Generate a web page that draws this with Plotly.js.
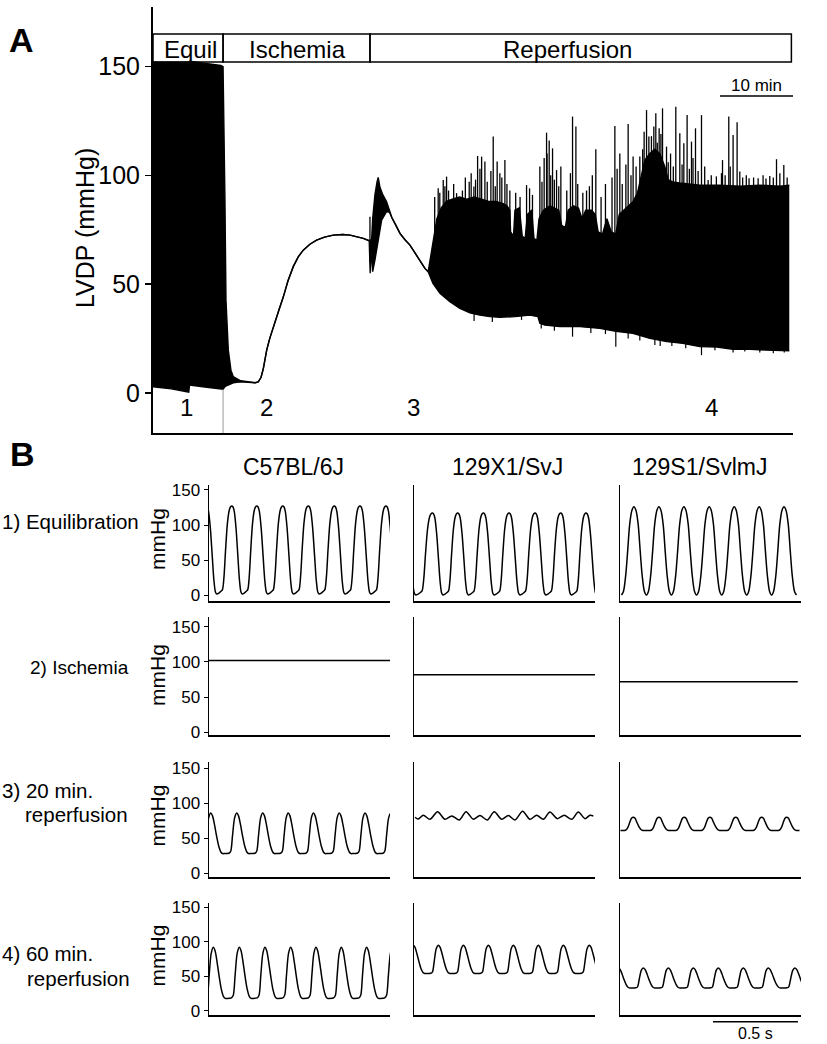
<!DOCTYPE html>
<html><head><meta charset="utf-8">
<script src="https://cdn.plot.ly/plotly-3.0.1.min.js"></script>
<style>html,body{margin:0;padding:0;background:#fff}#chart{width:827px;height:1044px}</style>
</head><body><div id="chart"></div>
<script>
// ================= Panel A data (time in min, LVDP in mmHg) =================
const phaseNames = ['Equil', 'Ischemia', 'Reperfusion'];
const phaseBounds = [0, 9.6, 29.73, 87.48];
const phaseLabelT = [5.2, 19.8, 56.8];
const stageLabels = ['1', '2', '3', '4'];
const stageT = [4.6, 15.6, 35.7, 76.5];
const yTicksA = [0, 50, 100, 150];
const scaleBarMin = 10;      // "10 min"
const scaleBarEndA = 87.7;

const upperT = [0, 2.5, 4.9, 5.0, 7.1, 8.5, 9.3, 9.6, 9.75, 9.86, 10.0, 10.32, 10.68, 11.0, 12.0, 13.3, 14.0, 14.42, 14.8, 15.11, 15.58, 16.0, 16.48, 17.2, 17.85, 18.5, 19.22, 19.9, 20.59, 21.5, 22.42, 23.5, 24.7, 26.0, 27.0, 28.0, 28.81, 29.63, 29.73, 29.96, 30.1, 30.41, 30.7, 30.86, 31.1, 31.5, 32.0, 32.4, 32.74, 33.3, 33.84, 34.5, 35.21, 35.9, 36.58, 37.26, 37.71,
  38.0, 38.36, 38.9, 39.5, 40.2, 41.0, 42.0, 43.0, 44.0, 45.0, 46.0, 47.0, 48.0, 48.5, 48.9, 49.0, 49.4, 49.6, 50.2, 50.6, 51.0, 51.3, 51.9, 52.2, 52.6, 52.9, 53.5, 54.4, 55.0, 55.6, 56.0, 56.5, 56.9, 57.6, 58.3, 58.8, 59.3, 60.1, 60.6, 61.0, 61.6, 62.2, 62.8, 63.4, 63.9, 64.5, 65.2, 65.8, 66.4, 66.9, 67.4, 68.08, 68.77, 69.45, 70.14, 70.6, 71.2, 72.19, 74.93, 77.67, 80.41, 83.15, 85.89, 87.19];
const upperV = [152, 152, 152, 152.5, 151.5, 151, 150.5, 150, 120, 88.6, 42.6, 19.6, 10.4, 7.4, 5.5, 4.8, 4.6, 5.0, 7, 11, 19.6, 25, 30.4, 37.5, 44, 51.5, 58, 62.5, 65.6, 68.3, 70.2, 71.6, 72.5, 72.8, 72.5, 71.8, 71, 69.9, 70, 70.5, 80, 91, 97, 99, 94.5, 91, 88, 84, 80.5, 77, 73.3, 70.5, 67.9, 64.3, 61, 57.2, 55.7,
  62, 70, 80, 85, 88, 89, 90, 89, 90, 89, 88, 88, 87, 86, 84, 74, 72, 84, 85, 72, 71, 82, 84, 71, 70, 80, 84, 86, 85, 84, 77, 76, 84, 86, 85, 80, 84, 84, 82, 74, 73, 80, 74, 73, 82, 84, 86, 88, 92, 100, 107, 110, 112, 110, 104, 98, 97, 96.5, 95.5, 95.5, 95, 95.5, 95, 95.5];
const lowerT = [0, 2.5, 4.9, 4.95, 5.0, 7.1, 9.45, 9.6, 9.9, 10.5, 11.0, 12.0, 13.3, 14.0, 14.42, 14.8, 15.11, 15.58, 16.0, 16.48, 17.2, 17.85, 18.5, 19.22, 19.9, 20.59, 21.5, 22.42, 23.5, 24.7, 26.0, 27.0, 28.0, 28.81, 29.63, 29.7, 29.76, 29.85, 29.96, 30.1, 30.41, 30.86, 31.33, 32.0, 32.4, 32.74, 33.3, 33.84, 34.5, 35.21, 35.9, 36.58, 37.26, 37.71, 38.36, 39.32, 40.68, 42.05, 43.42, 44.79, 46.16, 47.53, 49.59, 51.64, 52.74, 53.01, 53.7, 55.75, 58.49, 61.23, 63.42, 65.75, 68.08, 70.41, 72.6, 74.93, 77.26, 79.45, 81.78, 84.11, 87.19];
const lowerV = [2.8, 1.8, 0.3, 2.0, 3.5, 2.6, 1.6, 1.6, 3.0, 4.0, 4.6, 5.0, 4.8, 4.6, 5.0, 7, 11, 19.6, 25, 30.4, 37.5, 44, 51.5, 58, 62.5, 65.6, 68.3, 70.2, 71.6, 72.5, 72.8, 72.5, 71.8, 71, 69.9, 56, 55, 66, 60, 55.7, 61, 70.2, 79.4, 83.3, 83, 80.5, 77, 73.3, 70.5, 67.9, 64.3, 61, 57.2, 55.7, 50.3, 45.7, 41.9, 38.8, 36.8, 35.7, 35, 34.7, 35, 35.7, 35, 32, 31.1, 30.4, 30.4, 29.6, 28.3, 27.3, 25, 23.5, 22.7, 21.2, 21, 20, 20, 19.6, 19.3];
const spikeT = [29.73, 38.6, 39.08, 39.3, 39.77, 40.0, 40.23, 40.5, 41.2, 41.6, 42.4, 42.8, 43.33, 43.6, 43.97, 44.2, 44.48, 44.8, 45.03, 45.48, 45.8, 46.3, 46.62, 46.9, 47.16, 47.53, 47.8, 48.22, 48.5, 48.9, 49.7, 50.3, 51.19, 51.6, 52.0, 53.01, 53.3, 53.6, 53.93, 54.0, 54.29, 54.5, 54.75, 55.0, 55.3, 55.6, 55.89, 56.7, 57.2, 57.49, 57.95, 58.2, 58.9, 59.41, 59.8, 60.2, 60.68, 61.4, 62.0, 62.9, 63.29, 63.6, 63.97, 64.3, 64.8, 65.11, 65.5, 65.79, 66.2, 66.71, 67.1, 67.3, 67.63, 67.95, 68.3, 68.63, 68.9, 69.1, 69.36, 69.6, 69.82, 70.37, 70.6, 70.92, 71.3, 71.64, 72.19, 72.5, 72.74, 73.19, 73.5, 73.79, 74.0, 74.34, 74.7, 75.16, 75.6, 76.07, 76.5, 77.2, 77.9, 78.04, 78.4, 78.9, 79.1, 79.49, 80.04, 80.41, 80.8, 81.3, 81.68, 82.3, 82.92, 83.6, 84.0, 84.52, 85.0, 85.44, 85.9, 86.44, 86.9];
const spikeTop = [81, 90, 94, 92, 97.8, 95, 99.4, 93, 96, 91.8, 93, 99, 97, 101, 94.8, 98, 108.9, 103, 108.6, 106.3, 97, 102, 117.8, 95, 106.3, 101, 99, 107, 96, 93, 92, 90, 95.5, 94, 91, 104, 97, 108, 119.6, 110, 116, 100, 112.4, 98, 102.4, 95, 104, 93, 101, 127, 122.4, 96, 92, 93, 95, 100, 112, 90, 96, 99, 122.7, 103, 110, 96, 105, 123.6, 100, 108.6, 104, 108.6, 112, 120, 130, 117.8, 118, 122.4, 128.5, 115, 121.6, 119, 130.8, 113.2, 106, 110, 104, 131.5, 119.3, 105, 114.7, 127.7, 103, 115.5, 108, 121.6, 102, 127.7, 104, 97.8, 100, 99.5, 101, 107, 100, 127, 104, 118.5, 124.4, 101.7, 99, 100, 98.6, 99, 98.6, 100, 98.5, 99.7, 99, 107.4, 101, 104.7, 99];
const dipT = [44.0, 46.5, 50.5, 53.2, 55.0, 57.49, 60.0, 62.0, 63.42, 65.11, 66.71, 68.77, 69.5, 71.1, 73.0, 75.16, 77.0, 79.49, 81.1, 83.15, 85.0, 86.5];
const dipBottom = [33, 32.5, 33.5, 29.5, 28.5, 25.8, 27.5, 27, 21.2, 25, 24, 22, 21.5, 21.5, 20.5, 17.3, 19.5, 18.5, 19, 18.5, 18.2, 18.5];

// ================= Panel B data (time in s, pressure in mmHg) =================
const strains = ['C57BL/6J', '129X1/SvJ', '129S1/SvlmJ'];
const rowLabelLines = [['1) Equilibration'], ['2) Ischemia'], ['3) 20 min.', 'reperfusion'], ['4) 60 min.', 'reperfusion']];
const yTicksB = [0, 50, 100, 150];
const scaleBarSec = 0.5;
const scaleBarEndB = 1.047;

// beat shapes: phase (fraction of beat interval from the peak) and level (0 = diastolic, 1 = peak)
const shapeA_dt = [-0.5, -0.42, -0.36, -0.30, -0.24, -0.17, -0.10, -0.05, 0, 0.05, 0.10, 0.17, 0.24, 0.31, 0.37, 0.42, 0.5];
const shapeA_f  = [0.01, 0.03, 0.05, 0.20, 0.50, 0.80, 0.95, 0.99, 1, 0.99, 0.94, 0.75, 0.45, 0.15, 0.02, 0.0, 0.01];
const shapeB_dt = [-0.5, -0.42, -0.33, -0.25, -0.17, -0.08, 0, 0.08, 0.17, 0.25, 0.33, 0.42, 0.5];
const shapeB_f  = [0, 0.04, 0.22, 0.5, 0.8, 0.96, 1, 0.96, 0.8, 0.5, 0.22, 0.04, 0];
const shapeC_dt = [-0.5, -0.3, -0.23, -0.16, -0.08, 0, 0.07, 0.15, 0.23, 0.31, 0.39, 0.46, 0.5];
const shapeC_f  = [0.0, 0.01, 0.06, 0.45, 0.88, 1, 0.93, 0.7, 0.42, 0.18, 0.04, 0.0, 0.0];
const shapeD_dt = [-0.5, -0.3, -0.22, -0.14, -0.07, 0, 0.07, 0.14, 0.22, 0.3, 0.38, 0.5];
const shapeD_f  = [0, 0.02, 0.2, 0.6, 0.92, 1, 0.92, 0.62, 0.3, 0.08, 0.01, 0];

// 1) Equilibration
const r1c1PeakT = [-0.018, 0.134, 0.281, 0.434, 0.584, 0.737, 0.888, 1.041];
const r1c1PeakP = [127, 127, 127, 127, 127, 127, 127, 127];
const r1c1TroughP = [2, 2, 2, 2, 2, 2, 2, 2];
const r1c2PeakT = [-0.06, 0.108, 0.257, 0.408, 0.559, 0.712, 0.863, 1.012];
const r1c2PeakP = [117, 117, 117, 117, 117, 117, 117, 117];
const r1c2TroughP = [0.6, 0.6, 0.6, 0.6, 0.6, 0.6, 0.6, 0.6];
const r1c3PeakT = [0.082, 0.229, 0.376, 0.525, 0.672, 0.819, 0.965];
const r1c3PeakP = [126, 126, 126, 126, 126, 126, 126];
const r1c3TroughP = [0.5, 0.5, 0.5, 0.5, 0.5, 0.5, 0.5];
// 2) Ischemia (flat pressure)
const ischLevel = [102, 82, 72];
const ischEndT = [1.065, 1.065, 1.046];
// 3) 20 min reperfusion
const r3c1PeakT = [0.01, 0.163, 0.316, 0.466, 0.614, 0.766, 0.918, 1.069];
const r3c1PeakP = [86, 86, 86, 86, 86, 86, 86, 86];
const r3c1TroughP = [28, 28, 28, 28, 28, 28, 28, 28];
const r3c2T = [0.006, 0.025, 0.055, 0.094, 0.139, 0.182, 0.222, 0.267, 0.306, 0.349, 0.388, 0.431, 0.472, 0.516, 0.555, 0.594, 0.639, 0.682, 0.722, 0.761, 0.8, 0.843, 0.884, 0.928, 0.967, 1.006, 1.035, 1.055];
const r3c2P = [80, 77.6, 82.8, 77.1, 88, 77.1, 81.9, 76.1, 88, 77.1, 82.4, 76.1, 88, 77.1, 82.4, 76.1, 88.5, 77.1, 82.8, 77.1, 87.5, 78, 82.8, 77.1, 87.5, 78, 82.8, 81.9];
const r3c3PeakT = [0.078, 0.229, 0.378, 0.529, 0.681, 0.834, 0.981];
const r3c3PeakP = [80, 80, 80, 80, 80, 80, 80];
const r3c3TroughP = [61, 61, 61, 61, 61, 61, 61];
// 4) 60 min reperfusion
const r4c1PeakT = [0.025, 0.178, 0.329, 0.48, 0.629, 0.778, 0.927, 1.08];
const r4c1PeakP = [92, 92, 92, 92, 92, 92, 92, 92];
const r4c1TroughP = [18, 18, 18, 18, 18, 18, 18, 18];
const r4c2PeakT = [-0.005, 0.143, 0.29, 0.437, 0.584, 0.731, 0.878, 1.031];
const r4c2PeakP = [95, 95, 95, 95, 95, 95, 95, 95];
const r4c2TroughP = [54, 54, 54, 54, 54, 54, 54, 54];
const r4c3PeakT = [-0.01, 0.137, 0.284, 0.431, 0.578, 0.725, 0.872, 1.029];
const r4c3PeakP = [62, 62, 62, 62, 62, 62, 62, 62];
const r4c3TroughP = [33, 33, 33, 33, 33, 33, 33, 33];

// ================= build =================
const W = 827, H = 1044;
const fx = v => v / W, fy = v => 1 - v / H;
const FONT = 'Liberation Sans, Arial, Helvetica, sans-serif';

function beats(peakT, peakP, troughP, dt, f) {
  const xs = [], ys = [];
  const n = peakT.length;
  const mean = (peakT[n - 1] - peakT[0]) / (n - 1);
  for (let i = 0; i < n; i++) {
    const before = i > 0 ? peakT[i] - peakT[i - 1] : mean;
    const after = i < n - 1 ? peakT[i + 1] - peakT[i] : mean;
    for (let j = 0; j < dt.length; j++) {
      if (i > 0 && j === 0) continue;
      const per = dt[j] < 0 ? before : after;
      xs.push(peakT[i] + dt[j] * per);
      ys.push(troughP[i] + f[j] * (peakP[i] - troughP[i]));
    }
  }
  return [xs, ys];
}

const traces = [];
// Panel A
traces.push({x: lowerT, y: lowerV, type: 'scatter', mode: 'lines', line: {color: '#000', width: 1.4}, xaxis: 'x', yaxis: 'y', hoverinfo: 'skip'});
traces.push({x: upperT, y: upperV, type: 'scatter', mode: 'lines', fill: 'tonexty', fillcolor: '#000', line: {color: '#000', width: 1.4}, xaxis: 'x', yaxis: 'y', hoverinfo: 'skip'});
const sx = [], sy = [];
spikeT.forEach((t, i) => { sx.push(t, t, null); sy.push(60, spikeTop[i], null); });
traces.push({x: sx, y: sy, type: 'scatter', mode: 'lines', line: {color: '#000', width: 1.3}, xaxis: 'x', yaxis: 'y', hoverinfo: 'skip'});
const dx = [], dy = [];
dipT.forEach((t, i) => { dx.push(t, t, null); dy.push(40, dipBottom[i], null); });
traces.push({x: dx, y: dy, type: 'scatter', mode: 'lines', line: {color: '#000', width: 1.2}, xaxis: 'x', yaxis: 'y', hoverinfo: 'skip'});

// Panel B
const panelWaves = [
  [beats(r1c1PeakT, r1c1PeakP, r1c1TroughP, shapeA_dt, shapeA_f), beats(r1c2PeakT, r1c2PeakP, r1c2TroughP, shapeA_dt, shapeA_f), beats(r1c3PeakT, r1c3PeakP, r1c3TroughP, shapeB_dt, shapeB_f)],
  [[[0, ischEndT[0]], [ischLevel[0], ischLevel[0]]], [[0, ischEndT[1]], [ischLevel[1], ischLevel[1]]], [[0, ischEndT[2]], [ischLevel[2], ischLevel[2]]]],
  [beats(r3c1PeakT, r3c1PeakP, r3c1TroughP, shapeC_dt, shapeC_f), [r3c2T, r3c2P], beats(r3c3PeakT, r3c3PeakP, r3c3TroughP, shapeD_dt, shapeD_f)],
  [beats(r4c1PeakT, r4c1PeakP, r4c1TroughP, shapeC_dt, shapeC_f), beats(r4c2PeakT, r4c2PeakP, r4c2TroughP, shapeC_dt, shapeC_f), beats(r4c3PeakT, r4c3PeakP, r4c3TroughP, shapeC_dt, shapeC_f)]
];

const colPx = [[209, 390], [414, 595], [620, 801]];
const rowPx = [[485, 601], [617, 735.3], [762, 876.7], [903, 1015]];
const rowRange = [[-8, 157], [-4, 163.7], [-5, 159], [-6, 156]];

const layout = {
  width: W, height: H, margin: {l: 0, r: 0, t: 0, b: 0},
  paper_bgcolor: '#fff', plot_bgcolor: 'rgba(0,0,0,0)', showlegend: false,
  font: {family: FONT, color: '#000'},
  xaxis: {domain: [fx(153), fx(793)], range: [0, 87.7], anchor: 'y', showline: true, linewidth: 2, linecolor: '#000', showgrid: false, zeroline: false, ticks: '', showticklabels: false, fixedrange: true},
  yaxis: {domain: [fy(433), fy(7)], range: [-18.5, 177.4], anchor: 'x', showline: true, linewidth: 2, linecolor: '#000', showgrid: false, zeroline: false, tickmode: 'array', tickvals: yTicksA, ticks: 'outside', ticklen: 6, tickwidth: 1.5, tickcolor: '#000', tickfont: {size: 25, family: FONT}, fixedrange: true},
  shapes: [], annotations: []
};

for (let r = 0; r < 4; r++) {
  for (let c = 0; c < 3; c++) {
    const k = 2 + r * 3 + c;
    layout['xaxis' + k] = {domain: [fx(colPx[c][0]), fx(colPx[c][1])], range: [0, 1.065], anchor: 'y' + k, showline: true, linewidth: 2, linecolor: '#000', showgrid: false, zeroline: false, ticks: '', showticklabels: false, fixedrange: true};
    layout['yaxis' + k] = {domain: [fy(rowPx[r][1]), fy(rowPx[r][0])], range: rowRange[r], anchor: 'x' + k, showline: true, linewidth: 1.5, linecolor: '#000', showgrid: false, zeroline: false,
      tickmode: 'array', tickvals: c === 0 ? yTicksB : [], ticks: c === 0 ? 'outside' : '', ticklen: 4, tickwidth: 1, tickcolor: '#000', showticklabels: c === 0, tickfont: {size: 17, family: FONT}, fixedrange: true};
    const w = panelWaves[r][c];
    traces.push({x: w[0], y: w[1], type: 'scatter', mode: 'lines', line: {color: '#000', width: 1.5, shape: 'spline', smoothing: 0.8}, xaxis: 'x' + k, yaxis: 'y' + k, hoverinfo: 'skip'});
  }
}

// Phase boxes
for (let i = 0; i < phaseNames.length; i++) {
  layout.shapes.push({type: 'rect', xref: 'x', yref: 'paper', x0: phaseBounds[i], x1: phaseBounds[i + 1], y0: fy(62), y1: fy(34), line: {color: '#000', width: 1.5}, fillcolor: 'rgba(0,0,0,0)'});
  layout.annotations.push({xref: 'x', yref: 'paper', x: phaseLabelT[i], y: fy(50), text: phaseNames[i], showarrow: false, xanchor: 'center', yanchor: 'middle', font: {size: 24}});
}
// gray marker line at end of equilibration
layout.shapes.push({type: 'line', xref: 'x', yref: 'y', x0: phaseBounds[1], x1: phaseBounds[1], y0: -18.5, y1: 1.6, line: {color: '#9a9a9a', width: 1}});
// stage numbers
stageLabels.forEach((s, i) => layout.annotations.push({xref: 'x', yref: 'paper', x: stageT[i], y: fy(408), text: s, showarrow: false, xanchor: 'center', yanchor: 'middle', font: {size: 24}}));
// 10 min scale bar
layout.shapes.push({type: 'line', xref: 'x', yref: 'paper', x0: scaleBarEndA - scaleBarMin, x1: scaleBarEndA, y0: fy(96), y1: fy(96), line: {color: '#000', width: 1.5}});
layout.annotations.push({xref: 'x', yref: 'paper', x: scaleBarEndA - scaleBarMin / 2, y: fy(85), text: scaleBarMin + ' min', showarrow: false, xanchor: 'center', yanchor: 'middle', font: {size: 17}});
// 0.5 s scale bar (bottom-right panel)
layout.shapes.push({type: 'line', xref: 'x13', yref: 'paper', x0: scaleBarEndB - scaleBarSec, x1: scaleBarEndB, y0: fy(1021.7), y1: fy(1021.7), line: {color: '#000', width: 1.5}});
layout.annotations.push({xref: 'x13', yref: 'paper', x: scaleBarEndB - scaleBarSec / 2, y: fy(1033.5), text: scaleBarSec + ' s', showarrow: false, xanchor: 'center', yanchor: 'middle', font: {size: 16}, borderpad: 0});

// Panel letters & titles
layout.annotations.push({xref: 'paper', yref: 'paper', x: fx(21), y: fy(40), text: '<b>A</b>', showarrow: false, xanchor: 'center', yanchor: 'middle', font: {size: 34}});
layout.annotations.push({xref: 'paper', yref: 'paper', x: fx(22), y: fy(454), text: '<b>B</b>', showarrow: false, xanchor: 'center', yanchor: 'middle', font: {size: 34}});
layout.annotations.push({xref: 'paper', yref: 'paper', x: fx(85), y: fy(228), text: 'LVDP (mmHg)', textangle: -90, showarrow: false, xanchor: 'center', yanchor: 'middle', font: {size: 25}});

const headerX = [293, 508, 700];
strains.forEach((s, i) => layout.annotations.push({xref: 'paper', yref: 'paper', x: fx(headerX[i]), y: fy(467), text: s, showarrow: false, xanchor: 'center', yanchor: 'middle', font: {size: 23}}));

const rowLabelPos = [[[0, 521.7]], [[28, 667]], [[0, 790], [23, 814]], [[0, 953], [25, 978]]];
const rowLabelSize = [20.5, 19, 20.5, 20.5];
rowLabelLines.forEach((lines, r) => lines.forEach((txt, j) => {
  layout.annotations.push({xref: 'paper', yref: 'paper', x: fx(rowLabelPos[r][j][0]), y: fy(rowLabelPos[r][j][1]), text: txt, showarrow: false, xanchor: 'left', yanchor: 'middle', font: {size: rowLabelSize[r]}});
}));
const mmHgY = [539, 675, 815.5, 955.5];
mmHgY.forEach(y => layout.annotations.push({xref: 'paper', yref: 'paper', x: fx(157), y: fy(y), text: 'mmHg', textangle: -90, showarrow: false, xanchor: 'center', yanchor: 'middle', font: {size: 21}}));

Plotly.newPlot('chart', traces, layout, {staticPlot: true, displayModeBar: false});
</script>
</body></html>
